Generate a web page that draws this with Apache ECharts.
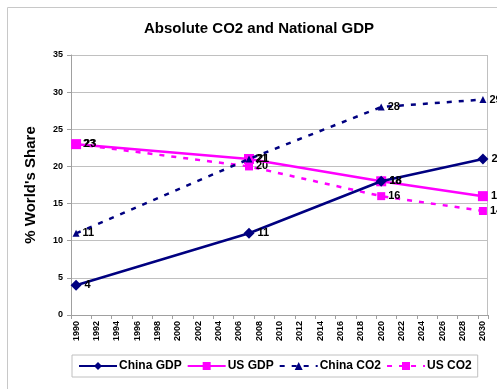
<!DOCTYPE html>
<html><head><meta charset="utf-8">
<script src="https://cdn.jsdelivr.net/npm/echarts@6/dist/echarts.min.js"></script>
<style>html,body{margin:0;padding:0;background:#fff}#c{width:497px;height:389px}</style>
</head><body><div id="c"></div>
<script>
const years = [];
for (let y = 1990; y <= 2030; y++) years.push(String(y));
const pointYears = ['1990', '2007', '2020', '2030'];
const chinaGDP = [4, 11, 18, 21];
const usGDP = [23, 21, 18, 16];
const chinaCO2 = [11, 21, 28, 29];
const usCO2 = [23, 20, 16, 14];
const yTicks = [0, 5, 10, 15, 20, 25, 30, 35];

const pair = arr => pointYears.map((y, i) => [y, arr[i]]);
const navy = '#000080', mag = '#FF00FF';
const lbl = {show: true, position: 'right', distance: 3, color: '#000', fontWeight: 'bold', fontSize: 11, fontFamily: 'Liberation Sans'};

const chart = echarts.init(document.getElementById('c'), null, {renderer: 'canvas'});
chart.setOption({
  animation: false,
  textStyle: {fontFamily: 'Liberation Sans'},
  title: {text: 'Absolute CO2 and National GDP', left: 254, textAlign: 'center', top: 16,
    textStyle: {fontSize: 15, fontWeight: 'bold', color: '#000', fontFamily: 'Liberation Sans'}},
  graphic: [
    {type: 'line', shape: {x1: 7.5, y1: 7.5, x2: 497, y2: 7.5}, style: {stroke: '#c8c8c8', lineWidth: 1}},
    {type: 'line', shape: {x1: 7.5, y1: 7.5, x2: 7.5, y2: 389}, style: {stroke: '#c8c8c8', lineWidth: 1}},
    {type: 'line', shape: {x1: 487.5, y1: 55, x2: 487.5, y2: 315}, style: {stroke: '#c0c0c0', lineWidth: 1}}
  ],
  grid: {left: 71, right: 9, top: 55, bottom: 74, containLabel: false},
  xAxis: {
    type: 'category', data: years, boundaryGap: true,
    axisLine: {lineStyle: {color: '#a0a0a0'}},
    axisTick: {show: true, interval: 1, length: 4, lineStyle: {color: '#a0a0a0'}},
    axisLabel: {interval: 1, rotate: 90, fontSize: 9, fontWeight: 'bold', color: '#000', margin: 6},
    splitLine: {show: false}
  },
  yAxis: {
    type: 'value', min: 0, max: 35, interval: 5,
    name: "% World's Share", nameLocation: 'middle', nameGap: 33, nameRotate: 90,
    nameTextStyle: {fontSize: 15, fontWeight: 'bold', color: '#000'},
    axisLine: {show: true, lineStyle: {color: '#a0a0a0'}},
    axisTick: {show: true, length: 4, lineStyle: {color: '#a0a0a0'}},
    axisLabel: {fontSize: 9, fontWeight: 'bold', color: '#000', margin: 8,
      formatter: v => yTicks.includes(v) ? String(v) : ''},
    splitLine: {lineStyle: {color: '#c0c0c0'}}
  },
  legend: {
    left: 72, top: 355, width: 420, padding: [5, 6, 5, 6], itemGap: 5,
    borderColor: '#c0c0c0', borderWidth: 1,
    itemWidth: 38, itemHeight: 10,
    textStyle: {fontSize: 12, fontWeight: 'bold', color: '#000', padding: [0, 0, 0, -3]},
    data: ['China GDP', 'US GDP', 'China CO2', 'US CO2']
  },
  series: [
    {name: 'China GDP', type: 'line', data: pair(chinaGDP), symbol: 'diamond', symbolSize: 11, showAllSymbol: true,
      lineStyle: {color: navy, width: 2.5}, itemStyle: {color: navy}, label: lbl, z: 4},
    {name: 'US GDP', type: 'line', data: pair(usGDP), symbol: 'rect', symbolSize: 10, showAllSymbol: true,
      lineStyle: {color: mag, width: 2.5}, itemStyle: {color: mag}, label: lbl, z: 3},
    {name: 'China CO2', type: 'line', data: pair(chinaCO2), symbol: 'triangle', symbolSize: 7, showAllSymbol: true,
      lineStyle: {color: navy, width: 2.5, type: [5, 7]}, itemStyle: {color: navy}, label: lbl, z: 5},
    {name: 'US CO2', type: 'line', data: pair(usCO2), symbol: 'rect', symbolSize: 8, showAllSymbol: true,
      lineStyle: {color: mag, width: 2.5, type: [5, 7]}, itemStyle: {color: mag}, label: lbl, z: 2}
  ]
});
</script></body></html>
